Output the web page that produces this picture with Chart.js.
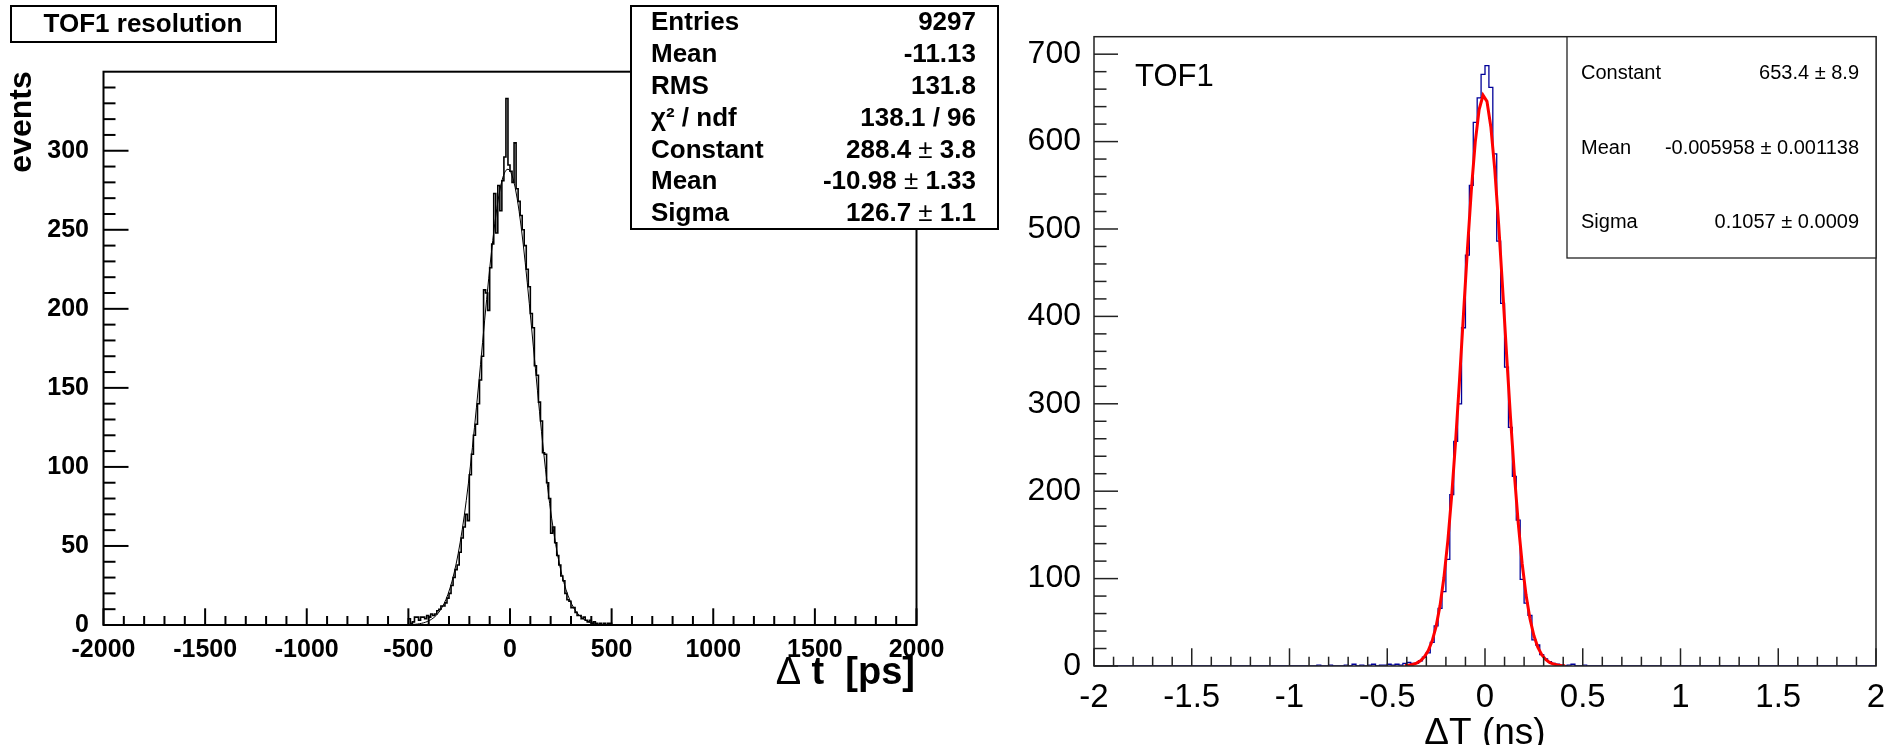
<!DOCTYPE html>
<html><head><meta charset="utf-8">
<script src="https://cdn.jsdelivr.net/npm/chart.js@4.4.0/dist/chart.umd.min.js"></script>
<style>
html,body{margin:0;padding:0;background:#fff;}
#wrap{position:relative;width:1900px;height:745px;overflow:hidden;background:#fff;}
canvas{position:absolute;left:0;top:0;}
</style></head><body>
<div id="wrap"><canvas id="c1" width="1900" height="745"></canvas><canvas id="c2" width="1900" height="745"></canvas></div>
<script>
// ---------------- LEFT PANEL DATA ----------------
const leftTitle = 'TOF1 resolution';
const leftYTitle = 'events';
const leftXTitleSymbol = 'Δ';
const leftXTitleText = ' t  [ps]';
const leftBinStart = -500;
const leftBinWidth = 10;
const leftCounts = [
  4, 1, 2, 5, 5, 3, 5, 5, 4, 6,
  5, 7, 6, 7, 9, 10, 12, 12, 14, 17,
  20, 25, 30, 35, 38, 46, 55, 62, 70, 66,
  95, 108, 120, 127, 140, 155, 170, 212, 210, 199,
  226, 241, 273, 248, 278, 262, 281, 296, 333, 291,
  287, 280, 305, 276, 268, 259, 250, 240, 225, 214,
  197, 188, 164, 158, 141, 129, 109, 108, 90, 80,
  58, 62, 52, 44, 38, 31, 28, 20, 16, 15,
  11, 11, 8, 6, 6, 4, 5, 3, 2, 3,
  1, 2, 1, 0, 1, 0, 1, 0, 1, 1
];
const leftFitStart = -495;
const leftFitStep = 10;
const leftFitValues = [
  0.2, 0.26, 0.35, 0.47, 0.62, 0.82, 1.07, 1.39, 1.79, 2.29,
  2.92, 3.70, 4.65, 5.82, 7.23, 8.93, 10.96, 13.4, 16.2, 19.5,
  23.4, 27.8, 32.9, 38.6, 45.1, 52.4, 60.4, 69.2, 78.9, 89.3,
  100.5, 112.3, 124.8, 137.8, 151.2, 164.8, 178.6, 192.4, 205.9, 219.0,
  231.5, 243.2, 253.8, 263.3, 271.5, 278.2, 283.3, 286.6, 288.3, 288.1,
  286.1, 282.4, 277.0, 270.0, 261.6, 251.8, 240.9, 229.1, 216.5, 203.3,
  189.7, 175.9, 162.1, 148.5, 135.2, 122.3, 109.9, 98.2, 87.2, 76.9,
  67.5, 58.8, 50.9, 43.8, 37.5, 31.8, 26.9, 22.6, 18.8, 15.6,
  12.9, 10.5, 8.57, 6.93, 5.57, 4.45, 3.53, 2.78, 2.18, 1.70,
  1.32, 1.01, 0.77, 0.59, 0.44, 0.33, 0.25, 0.18, 0.14, 0.10
];
const leftXTicks = [-2000, -1500, -1000, -500, 0, 500, 1000, 1500, 2000];
const leftYTicks = [0, 50, 100, 150, 200, 250, 300];
const leftStatLabels = ['Entries', 'Mean', 'RMS', 'χ² / ndf', 'Constant', 'Mean', 'Sigma'];
const leftStatValues = ['9297', '-11.13', '131.8', '138.1 / 96', '288.4 ± 3.8', '-10.98 ± 1.33', '126.7 ± 1.1'];

// ---------------- RIGHT PANEL DATA ----------------
const rightLabel = 'TOF1';
const rightXTitle = 'ΔT (ns)';
const rightBinStart = -0.90;
const rightBinWidth = 0.02;
const rightCounts = [
  0, 0, 1, 0, 0, 1, 0, 0, 0, 1,
  0, 2, 0, 1, 0, 1, 2, 0, 1, 1,
  2, 1, 2, 1, 3, 4, 3, 3, 6, 10,
  15, 27, 46, 66, 85, 122, 196, 257, 300, 387,
  470, 550, 622, 650, 677,
  687, 662, 586, 486, 415, 342, 273, 217, 167, 99,
  72, 58, 30, 24, 13, 8, 5, 3, 2, 1,
  0, 1, 2, 0, 0, 1, 0, 0, 0, 0
];
const rightFitStart = -0.41;
const rightFitStep = 0.02;
const rightFitValues = [
  0.44, 0.89, 1.74, 3.28, 5.95, 10.4, 17.6, 28.8, 45.4, 69.1,
  101.5, 143.5, 196.0, 258.2, 328.2, 402.6, 476.4, 543.9, 599.1, 636.7,
  653.0, 646.0, 616.7, 568.0, 504.7, 432.7, 358.0, 285.8, 220.0, 163.5,
  117.3, 81.1, 54.1, 34.8, 21.6, 12.9, 7.5, 4.19, 2.26, 1.17,
  0.59, 0.28
];
const rightXTicks = [-2, -1.5, -1, -0.5, 0, 0.5, 1, 1.5, 2];
const rightYTicks = [0, 100, 200, 300, 400, 500, 600, 700];
const rightStatLabels = ['Constant', 'Mean', 'Sigma'];
const rightStatValues = ['653.4 ± 8.9', '-0.005958 ± 0.001138', '0.1057 ± 0.0009'];

// ---------------- HELPERS ----------------
const FONT = '"Liberation Sans", Arial, Helvetica, sans-serif';

function histPoints(start, width, counts, min, max) {
  const pts = [{x: min, y: 0}, {x: start - width / 2, y: 0}];
  counts.forEach((c, i) => pts.push({x: start + width * (i + 0.5), y: c}));
  pts.push({x: start + width * (counts.length + 0.5), y: 0}, {x: max, y: 0});
  return pts;
}
function curvePoints(start, step, vals) {
  return vals.map((v, i) => ({x: start + step * i, y: v}));
}
function seg(ctx, x1, y1, x2, y2) {
  ctx.beginPath(); ctx.moveTo(x1, y1); ctx.lineTo(x2, y2); ctx.stroke();
}
// right-aligned text where the "±" sign is drawn in normal weight
function drawPM(ctx, text, right, y, boldFont, normalFont) {
  const parts = text.split('±');
  ctx.textAlign = 'left';
  if (parts.length === 1) {
    ctx.font = boldFont;
    const w = ctx.measureText(text).width;
    ctx.fillText(text, right - w, y);
    return;
  }
  const a = parts[0], b = parts[1];
  ctx.font = boldFont; const wa = ctx.measureText(a).width; const wb = ctx.measureText(b).width;
  ctx.font = normalFont; const wp = ctx.measureText('±').width;
  let x = right - wa - wp - wb;
  ctx.font = boldFont; ctx.fillText(a, x, y); x += wa;
  ctx.font = normalFont; ctx.fillText('±', x, y); x += wp;
  ctx.font = boldFont; ctx.fillText(b, x, y);
}

Chart.defaults.devicePixelRatio = 1;

// ---------------- LEFT CHART ----------------
const leftPlugin = {
  id: 'rootLeft',
  afterDraw(chart) {
    const {ctx, chartArea: a, scales: {x, y}} = chart;
    ctx.save();
    ctx.strokeStyle = '#000';
    ctx.lineWidth = 2;
    for (let v = 0; v <= 340; v += 10) {
      const py = y.getPixelForValue(v);
      const len = (v % 50 === 0) ? 25 : 12;
      seg(ctx, a.left, py, a.left + len, py);
    }
    for (let v = -2000; v <= 2000; v += 100) {
      const px = x.getPixelForValue(v);
      const len = (v % 500 === 0) ? 16.7 : 9;
      seg(ctx, px, a.bottom, px, a.bottom - len);
    }
    ctx.strokeRect(a.left, a.top, a.right - a.left, a.bottom - a.top);

    // title box
    ctx.fillStyle = '#fff';
    ctx.fillRect(11, 6, 265, 36);
    ctx.strokeRect(11, 6, 265, 36);
    ctx.fillStyle = '#000';
    ctx.font = 'bold 26px ' + FONT;
    ctx.textAlign = 'center';
    ctx.textBaseline = 'middle';
    ctx.fillText(leftTitle, 143, 25);

    // stats box
    const bx = 631, by = 6, bw = 367, bh = 223;
    ctx.fillStyle = '#fff';
    ctx.fillRect(bx, by, bw, bh);
    ctx.strokeRect(bx, by, bw, bh);
    ctx.fillStyle = '#000';
    const rh = bh / leftStatLabels.length;
    leftStatLabels.forEach((lab, i) => {
      const cy = by + rh * (i + 0.5) + 1;
      ctx.font = 'bold 26px ' + FONT;
      ctx.textAlign = 'left';
      ctx.fillText(lab, 651, cy);
      drawPM(ctx, leftStatValues[i], 976, cy, 'bold 26px ' + FONT, '26px ' + FONT);
    });

    // y title
    ctx.save();
    ctx.translate(22, 122);
    ctx.rotate(-Math.PI / 2);
    ctx.font = 'bold 32px ' + FONT;
    ctx.textAlign = 'center';
    ctx.textBaseline = 'middle';
    ctx.fillText(leftYTitle, 0, 0);
    ctx.restore();

    // x title
    ctx.textBaseline = 'alphabetic';
    ctx.textAlign = 'right';
    ctx.font = 'bold 38px ' + FONT;
    ctx.fillText(leftXTitleText, 915, 684);
    const w = ctx.measureText(leftXTitleText).width;
    ctx.font = '38px ' + FONT;
    ctx.fillText(leftXTitleSymbol, 915 - w, 684);
    ctx.restore();
  }
};

new Chart(document.getElementById('c1'), {
  type: 'line',
  data: {
    datasets: [
      {
        label: 'fit',
        data: curvePoints(leftFitStart, leftFitStep, leftFitValues),
        borderColor: '#000', borderWidth: 1, pointRadius: 0, tension: 0, fill: false, order: 0
      },
      {
        label: 'hist',
        data: histPoints(leftBinStart, leftBinWidth, leftCounts, -2000, 2000),
        borderColor: '#000', borderWidth: 1.6, pointRadius: 0, stepped: 'middle', fill: false, order: 1
      }
    ]
  },
  options: {
    responsive: false, animation: false, events: [],
    layout: {padding: {left: 0, top: 71.7, right: 1900 - 916.5, bottom: 0}},
    plugins: {legend: {display: false}, tooltip: {enabled: false}, title: {display: false}},
    scales: {
      x: {
        type: 'linear', min: -2000, max: 2000,
        afterFit(s) { s.height = 120; },
        afterBuildTicks(s) { s.ticks = leftXTicks.map(v => ({value: v})); },
        ticks: {autoSkip: false, maxRotation: 0, minRotation: 0, padding: 2.5, color: '#000',
          font: {family: FONT, size: 25, weight: 'bold'}, callback: v => String(v)},
        grid: {display: false}, border: {display: false}
      },
      y: {
        type: 'linear', min: 0, max: 350,
        afterFit(s) { s.width = 103.5; },
        afterBuildTicks(s) { s.ticks = leftYTicks.map(v => ({value: v})); },
        ticks: {autoSkip: false, padding: 6.5, color: '#000',
          font: {family: FONT, size: 25, weight: 'bold'}, callback: v => String(v)},
        grid: {display: false}, border: {display: false}
      }
    }
  },
  plugins: [leftPlugin]
});

// ---------------- RIGHT CHART ----------------
const rightPlugin = {
  id: 'rootRight',
  afterDraw(chart) {
    const {ctx, chartArea: a, scales: {x, y}} = chart;
    ctx.save();
    ctx.strokeStyle = '#222';
    ctx.lineWidth = 1.5;
    for (let v = 0; v < 720; v += 20) {
      const py = y.getPixelForValue(v);
      const len = (v % 100 === 0) ? 24 : 12.5;
      seg(ctx, a.left, py, a.left + len, py);
    }
    for (let k = -20; k <= 20; k++) {
      const px = x.getPixelForValue(k / 10);
      const len = (k % 5 === 0) ? 17.7 : 9.3;
      seg(ctx, px, a.bottom, px, a.bottom - len);
    }
    ctx.strokeRect(a.left, a.top, a.right - a.left, a.bottom - a.top);

    ctx.fillStyle = '#000';
    ctx.font = '31px ' + FONT;
    ctx.textAlign = 'left';
    ctx.textBaseline = 'middle';
    ctx.fillText(rightLabel, 1135, 77);

    const bx = 1567, by = a.top, bw = a.right - 1567, bh = 258 - a.top;
    ctx.fillStyle = '#fff';
    ctx.fillRect(bx, by, bw, bh);
    ctx.lineWidth = 1.3;
    ctx.strokeRect(bx, by, bw, bh);
    ctx.fillStyle = '#000';
    ctx.font = '20px ' + FONT;
    const rows = [73, 148, 222];
    rightStatLabels.forEach((lab, i) => {
      ctx.textAlign = 'left';
      ctx.fillText(lab, 1581, rows[i]);
      ctx.textAlign = 'right';
      ctx.fillText(rightStatValues[i], 1859, rows[i]);
    });

    ctx.font = '37px ' + FONT;
    ctx.textAlign = 'center';
    ctx.textBaseline = 'alphabetic';
    ctx.fillText(rightXTitle, 1485, 744);
    ctx.restore();
  }
};

new Chart(document.getElementById('c2'), {
  type: 'line',
  data: {
    datasets: [
      {
        label: 'fit',
        data: curvePoints(rightFitStart, rightFitStep, rightFitValues),
        borderColor: '#ff0000', borderWidth: 3, pointRadius: 0, tension: 0, fill: false, order: 0
      },
      {
        label: 'hist',
        data: histPoints(rightBinStart, rightBinWidth, rightCounts, -2, 2),
        borderColor: '#000099', borderWidth: 1.3, pointRadius: 0, stepped: 'middle', fill: false, order: 1
      }
    ]
  },
  options: {
    responsive: false, animation: false, events: [],
    layout: {padding: {left: 0, top: 36.7, right: 24, bottom: 0}},
    plugins: {legend: {display: false}, tooltip: {enabled: false}, title: {display: false}},
    scales: {
      x: {
        type: 'linear', min: -2, max: 2,
        afterFit(s) { s.height = 79; },
        afterBuildTicks(s) { s.ticks = rightXTicks.map(v => ({value: v})); },
        ticks: {autoSkip: false, maxRotation: 0, minRotation: 0, padding: 3.7, color: '#000',
          font: {family: FONT, size: 33}, callback: v => String(v)},
        grid: {display: false}, border: {display: false}
      },
      y: {
        type: 'linear', min: 0, max: 720,
        afterFit(s) { s.width = 1094; },
        afterBuildTicks(s) { s.ticks = rightYTicks.map(v => ({value: v})); },
        ticks: {autoSkip: false, padding: 5, color: '#000',
          font: {family: FONT, size: 32}, callback: v => String(v)},
        grid: {display: false}, border: {display: false}
      }
    }
  },
  plugins: [rightPlugin]
});
</script>
</body></html>
